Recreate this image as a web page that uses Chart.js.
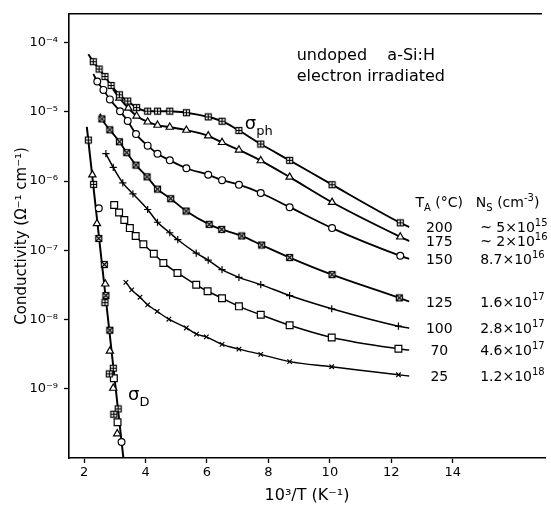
<!DOCTYPE html>
<html>
<head>
<meta charset="utf-8">
<script src="https://cdn.jsdelivr.net/npm/chart.js@4.4.1/dist/chart.umd.min.js"></script>
<style>
  html, body { margin: 0; padding: 0; background: #fff; }
</style>
</head>
<body>
<canvas id="chart" width="551" height="506"></canvas>
<script>
// ── DATA ───────────────────────────────────────────────────────────
const ANNEAL_T  = ['200', '175', '150', '125', '100', '70', '25'];
const NS_BASE   = ['~ 5×10', '~ 2×10', '8.7×10', '1.6×10', '2.8×10', '4.6×10', '1.2×10'];
const NS_EXP    = ['15', '16', '16', '17', '17', '17', '18'];
const X_TICKS   = [2, 4, 6, 8, 10, 12, 14];
const Y_TICKS   = [1e-9, 1e-8, 1e-7, 1e-6, 1e-5, 1e-4];

// photoconductivity, one pair of arrays per anneal temperature
const X200 = [2.30, 2.49, 2.68, 2.88, 3.15, 3.42, 3.71, 4.07, 4.39, 4.79, 5.33, 6.04, 6.49, 7.04, 7.75, 8.69, 10.07, 12.29];
const Y200 = [5.28e-5, 4.14e-5, 3.23e-5, 2.40e-5, 1.76e-5, 1.43e-5, 1.15e-5, 1.02e-5, 1.02e-5, 1.02e-5, 9.7e-6, 8.43e-6, 7.31e-6, 5.36e-6, 3.42e-6, 1.99e-6, 8.85e-7, 2.49e-7];
const X175 = [3.15, 3.44, 3.71, 4.07, 4.39, 4.79, 5.33, 6.04, 6.49, 7.04, 7.75, 8.69, 10.07, 12.29];
const Y175 = [1.58e-5, 1.13e-5, 8.71e-6, 7.14e-6, 6.41e-6, 6.00e-6, 5.43e-6, 4.50e-6, 3.61e-6, 2.81e-6, 1.97e-6, 1.14e-6, 4.93e-7, 1.56e-7];
const X150 = [2.43, 2.63, 2.84, 3.17, 3.42, 3.69, 4.07, 4.39, 4.79, 5.33, 6.04, 6.49, 7.04, 7.75, 8.69, 10.07, 12.29];
const Y150 = [2.74e-5, 2.07e-5, 1.51e-5, 1.02e-5, 7.38e-6, 4.76e-6, 3.24e-6, 2.48e-6, 1.99e-6, 1.53e-6, 1.23e-6, 1.03e-6, 8.85e-7, 6.71e-7, 4.19e-7, 2.09e-7, 8.32e-8];
const X125 = [2.58, 2.84, 3.15, 3.39, 3.69, 4.05, 4.39, 4.82, 5.32, 6.07, 6.48, 7.13, 7.78, 8.69, 10.07, 12.26];
const Y125 = [7.89e-6, 5.48e-6, 3.69e-6, 2.57e-6, 1.70e-6, 1.15e-6, 7.64e-7, 5.55e-7, 3.69e-7, 2.37e-7, 2.00e-7, 1.61e-7, 1.19e-7, 7.85e-8, 4.45e-8, 2.05e-8];
const X100 = [2.71, 2.95, 3.26, 3.59, 4.07, 4.39, 4.79, 5.05, 5.65, 6.04, 6.49, 7.04, 7.75, 8.69, 10.06, 12.23];
const Y100 = [2.48e-6, 1.57e-6, 9.40e-7, 6.53e-7, 3.88e-7, 2.54e-7, 1.79e-7, 1.42e-7, 9.12e-8, 7.21e-8, 5.24e-8, 4.06e-8, 3.19e-8, 2.22e-8, 1.43e-8, 8.00e-9];
const X70  = [2.98, 3.14, 3.31, 3.49, 3.68, 3.93, 4.27, 4.58, 5.04, 5.65, 6.02, 6.49, 7.04, 7.75, 8.69, 10.06, 12.23];
const Y70  = [4.50e-7, 3.52e-7, 2.74e-7, 2.09e-7, 1.61e-7, 1.22e-7, 8.93e-8, 6.56e-8, 4.70e-8, 3.17e-8, 2.56e-8, 2.03e-8, 1.55e-8, 1.17e-8, 8.26e-9, 5.51e-9, 3.78e-9];
const X25  = [3.36, 3.55, 3.82, 4.07, 4.38, 4.76, 5.33, 5.66, 5.98, 6.49, 7.04, 7.75, 8.69, 10.06, 12.23];
const Y25  = [3.44e-8, 2.68e-8, 2.10e-8, 1.63e-8, 1.31e-8, 1.01e-8, 7.55e-9, 6.14e-9, 5.61e-9, 4.37e-9, 3.74e-9, 3.14e-9, 2.46e-9, 2.08e-9, 1.59e-9];

// where the drawn curves start / stop beyond the first / last symbol
const CURVE_START_X = [2.14, 2.94, 2.30, 2.52, null, null, null];
const CURVE_START_Y = [6.79e-5, 2.12e-5, 3.52e-5, 9.40e-6, null, null, null];
const CURVE_END_X   = 12.58;
const CURVE_END_Y   = [2.16e-7, 1.36e-7, 7.53e-8, 1.82e-8, 7.48e-9, 3.62e-9, 1.53e-9];

// dark conductivity: fitted line and the scattered symbols on it
const DARK_LINE_X = [2.09, 3.28];
const DARK_LINE_Y = [6.05e-6, 1.0e-10];
const DARK_SQPLUS_X = [2.14, 2.31, 2.68, 2.95, 2.82, 3.11, 2.97];
const DARK_SQPLUS_Y = [3.91e-6, 8.93e-7, 1.75e-8, 1.98e-9, 1.64e-9, 5.12e-10, 4.29e-10];
const DARK_TRI_X    = [2.27, 2.42, 2.69, 2.84, 2.95, 3.08];
const DARK_TRI_Y    = [1.23e-6, 2.43e-7, 3.27e-8, 3.50e-9, 1.02e-9, 2.24e-10];
const DARK_CIRC_X   = [2.48, 3.22];
const DARK_CIRC_Y   = [4.05e-7, 1.70e-10];
const DARK_SQ_X     = [2.97, 3.09];
const DARK_SQ_Y     = [1.42e-9, 3.29e-10];
const DARK_SQX_X    = [2.48, 2.66, 2.71, 2.84];
const DARK_SQX_Y    = [1.48e-7, 6.22e-8, 2.22e-8, 7.00e-9];

// ── STYLE ──────────────────────────────────────────────────────────
const FONT = "'DejaVu Sans', sans-serif";
const INK  = '#000';

function boxMark(kind) {
  const c = document.createElement('canvas');
  c.width = c.height = 9;
  const g = c.getContext('2d');
  g.fillStyle = '#fff';
  g.fillRect(1, 1, 7, 7);
  g.strokeStyle = INK;
  g.lineWidth = 1.2;
  g.strokeRect(1.5, 1.5, 6, 6);
  g.beginPath();
  if (kind === 'plus') {
    g.moveTo(4.5, 1.5); g.lineTo(4.5, 7.5);
    g.moveTo(1.5, 4.5); g.lineTo(7.5, 4.5);
  } else {
    g.moveTo(1.5, 1.5); g.lineTo(7.5, 7.5);
    g.moveTo(7.5, 1.5); g.lineTo(1.5, 7.5);
  }
  g.stroke();
  return c;
}
const SQ_PLUS  = boxMark('plus');
const SQ_CROSS = boxMark('cross');

// symbol + radius + line width per anneal temperature
const MARKS  = [SQ_PLUS, 'triangle', 'circle', SQ_CROSS, 'cross', 'rect', 'crossRot'];
const RADII  = [4.5, 4.2, 3.4, 4.5, 3.6, 4.8, 3.2];
const WIDTHS = [1.9, 1.9, 1.8, 1.8, 1.5, 1.5, 1.4];

const SERIES_X = [X200, X175, X150, X125, X100, X70, X25];
const SERIES_Y = [Y200, Y175, Y150, Y125, Y100, Y70, Y25];

function pts(xs, ys) { return xs.map((x, i) => ({ x, y: ys[i] })); }

function markerSet(xs, ys, style, r) {
  return {
    data: pts(xs, ys), showLine: false, order: 0,
    pointStyle: style, pointRadius: r,
    backgroundColor: '#fff', borderColor: INK, pointBorderWidth: 1.2
  };
}

function curveSet(data, w) {
  return {
    data, showLine: true, order: 1, pointRadius: 0,
    borderColor: INK, borderWidth: w, fill: false,
    cubicInterpolationMode: 'monotone'
  };
}

// ── DATASETS ───────────────────────────────────────────────────────
const datasets = [];
SERIES_X.forEach((xs, i) => {
  const line = pts(xs, SERIES_Y[i]);
  if (CURVE_START_X[i] !== null) line.unshift({ x: CURVE_START_X[i], y: CURVE_START_Y[i] });
  line.push({ x: CURVE_END_X, y: CURVE_END_Y[i] });
  datasets.push(curveSet(line, WIDTHS[i]));
  datasets.push(markerSet(xs, SERIES_Y[i], MARKS[i], RADII[i]));
});
datasets.push(curveSet(pts(DARK_LINE_X, DARK_LINE_Y), 2));
datasets.push(markerSet(DARK_SQPLUS_X, DARK_SQPLUS_Y, SQ_PLUS, 4.5));
datasets.push(markerSet(DARK_TRI_X, DARK_TRI_Y, 'triangle', 4.2));
datasets.push(markerSet(DARK_CIRC_X, DARK_CIRC_Y, 'circle', 3.4));
datasets.push(markerSet(DARK_SQ_X, DARK_SQ_Y, 'rect', 4.8));
datasets.push(markerSet(DARK_SQX_X, DARK_SQX_Y, SQ_CROSS, 4.5));

// ── TEXT HELPERS ───────────────────────────────────────────────────
const SUP = { '-': '⁻', '0': '⁰', '1': '¹', '2': '²', '3': '³', '4': '⁴', '5': '⁵', '6': '⁶', '7': '⁷', '8': '⁸', '9': '⁹' };
function decade(v) {
  const e = String(Math.round(Math.log10(v)));
  return '10' + e.split('').map(c => SUP[c]).join('');
}

// draws a run of segments; seg.sub / seg.sup shrink and shift the text
function drawRich(ctx, segs, x, y, size, align) {
  const fontOf = s => `${(s.sub || s.sup) ? Math.round(size * 0.7) : size}px ${FONT}`;
  let total = 0;
  segs.forEach(s => { ctx.font = fontOf(s); total += ctx.measureText(s.t).width; });
  let cx = align === 'center' ? x - total / 2 : x;
  const base = y + size * 0.36;
  ctx.textBaseline = 'alphabetic';
  ctx.textAlign = 'left';
  segs.forEach(s => {
    ctx.font = fontOf(s);
    const dy = s.sub ? size * 0.3 : s.sup ? -size * 0.45 : 0;
    ctx.fillText(s.t, cx, base + dy);
    cx += ctx.measureText(s.t).width;
  });
}

const NOTES = [
  { segs: [{ t: 'undoped' }],              x: 8.92,  y: 6.73e-5, size: 16 },
  { segs: [{ t: 'a-Si:H' }],               x: 11.87, y: 6.73e-5, size: 16 },
  { segs: [{ t: 'electron irradiated' }],  x: 8.92,  y: 3.37e-5, size: 16 },
  { segs: [{ t: 'σ' }, { t: 'ph', sub: true }], x: 7.23, y: 6.92e-6, size: 18 },
  { segs: [{ t: 'σ' }, { t: 'D', sub: true }],  x: 3.43, y: 8.48e-10, size: 18 },
  { segs: [{ t: 'T' }, { t: 'A', sub: true }, { t: ' (°C)' }], x: 13.56, y: 5.0e-7, size: 14, align: 'center' },
  { segs: [{ t: 'N' }, { t: 'S', sub: true }, { t: ' (cm' }, { t: '-3', sup: true }, { t: ')' }], x: 14.75, y: 5.0e-7, size: 14 }
];
const COL_TA_X = 13.56;
const COL_NS_X = 14.89;

const textPlugin = {
  id: 'figureText',
  afterDraw(chart) {
    const { ctx, chartArea, scales: { x, y } } = chart;
    ctx.save();
    ctx.fillStyle = INK;
    // top frame line
    ctx.strokeStyle = INK;
    ctx.lineWidth = 1.5;
    ctx.beginPath();
    ctx.moveTo(chartArea.left, chartArea.top);
    ctx.lineTo(chartArea.right - 3, chartArea.top);
    ctx.stroke();

    NOTES.forEach(n => {
      drawRich(ctx, n.segs, x.getPixelForValue(n.x), y.getPixelForValue(n.y), n.size, n.align);
    });
    ANNEAL_T.forEach((t, i) => {
      const py = y.getPixelForValue(CURVE_END_Y[i]);
      drawRich(ctx, [{ t }], x.getPixelForValue(COL_TA_X), py, 14, 'center');
      drawRich(ctx, [{ t: NS_BASE[i] }, { t: NS_EXP[i], sup: true }], x.getPixelForValue(COL_NS_X), py, 14);
    });
    ctx.restore();
  }
};

// ── CHART ──────────────────────────────────────────────────────────
new Chart(document.getElementById('chart'), {
  type: 'scatter',
  data: { datasets },
  options: {
    responsive: false,
    devicePixelRatio: 1,
    animation: false,
    events: [],
    layout: { padding: { top: 11, right: 5, left: 0, bottom: 0 } },
    plugins: { legend: { display: false }, tooltip: { enabled: false } },
    scales: {
      x: {
        type: 'linear', min: 1.51, max: 17.0,
        afterBuildTicks: s => { s.ticks = X_TICKS.map(v => ({ value: v })); },
        afterFit: s => { s.height = 48; },
        grid: { drawOnChartArea: false, drawTicks: true, tickLength: 5, tickColor: INK, tickWidth: 1.3 },
        border: { display: true, color: INK, width: 1.6 },
        ticks: { color: INK, font: { size: 13, family: FONT }, padding: 2, maxRotation: 0 },
        title: {
          display: true, text: '10³/T (K⁻¹)', color: INK,
          font: { size: 16, family: FONT }, padding: { top: 0, bottom: 1 }
        }
      },
      y: {
        type: 'logarithmic', min: 1e-10, max: 2.6e-4,
        afterBuildTicks: s => { s.ticks = Y_TICKS.map(v => ({ value: v })); },
        afterFit: s => { s.width = 69; },
        grid: { drawOnChartArea: false, drawTicks: true, tickLength: 5, tickColor: INK, tickWidth: 1.3 },
        border: { display: true, color: INK, width: 1.6 },
        ticks: { color: INK, font: { size: 13, family: FONT }, padding: 6, callback: v => decade(v) },
        title: {
          display: true, text: 'Conductivity (Ω⁻¹ cm⁻¹)', color: INK,
          font: { size: 15, family: FONT }, padding: { top: 13, bottom: 0 }
        }
      }
    }
  },
  plugins: [textPlugin]
});
</script>
</body>
</html>
